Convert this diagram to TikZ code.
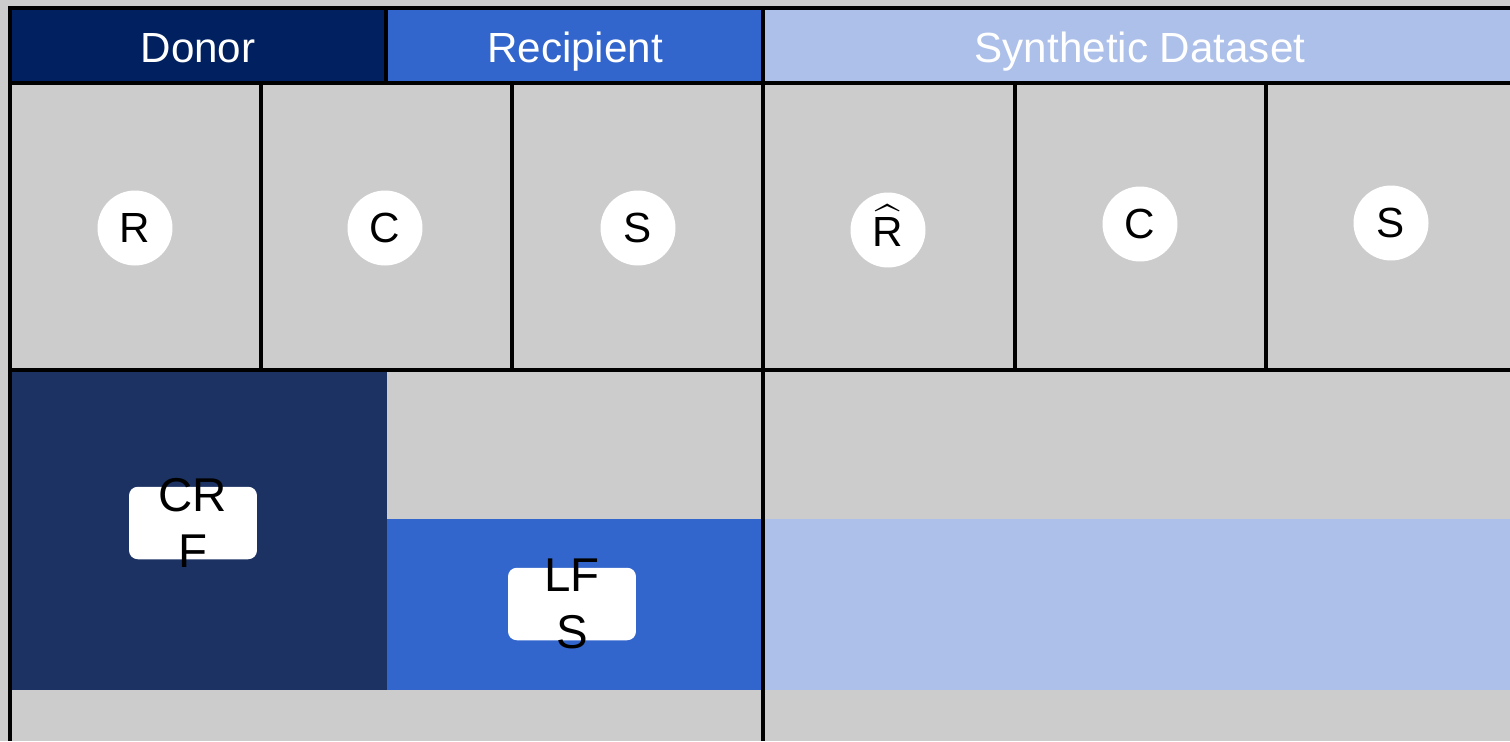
\documentclass[tikz,border=0pt]{standalone}
\usepackage{fontspec}
\setmainfont{Liberation Sans}
\usepackage{amsmath}

\definecolor{donorblue}{HTML}{002060}
\definecolor{donordark}{HTML}{1B3263}
\definecolor{recipblue}{HTML}{3366CC}
\definecolor{synthblue}{HTML}{ACC0EA}
\definecolor{cellgray}{HTML}{CCCCCC}

\begin{document}
\begin{tikzpicture}[x=0.02cm,y=-0.02cm,
  rule/.style={line width=2pt,black},
  head/.style={anchor=base,text=white,inner sep=0pt,font=\fontsize{24}{28}\selectfont},
  var/.style={circle,fill=white,minimum size=1.5cm,inner sep=0pt,font=\fontsize{24}{28}\selectfont},
  tag/.style={rectangle,rounded corners=5pt,fill=white,minimum width=2.56cm,minimum height=1.45cm,inner sep=0pt},
  tagtext/.style={align=center,inner sep=0pt,font=\fontsize{27}{32}\selectfont}]

\fill[cellgray] (0,0) rectangle (1510,741);
\useasboundingbox (0,0) rectangle (1510,741);

% header bar
\fill[donorblue] (10,8) rectangle (386,83);
\fill[recipblue] (386,8) rectangle (763,83);
\fill[synthblue] (763,8) rectangle (1510,83);
\node[head] (donor) at (198,62) {Donor};
\node[head] (recipient) at (575,62) {Recipient};
\node[head] (synthetic) at (1140,62) {Synthetic Dataset};

% blocks below the variables
\fill[donordark] (10,370) rectangle (387,690);
\fill[recipblue] (387,519) rectangle (763,690);
\fill[synthblue] (763,519) rectangle (1510,690);

% grid
\draw[rule] (8,8) -- (1510,8);
\draw[rule] (10,8) -- (10,741);
\draw[rule] (10,83) -- (1510,83);
\draw[rule] (10,370) -- (1510,370);
\draw[rule] (386,8) -- (386,83);
\draw[rule] (763,8) -- (763,741);
\foreach \x in {261,512,1015,1266}
  \draw[rule] (\x,83) -- (\x,370);

% variables
\foreach \x/\y/\name/\lbl in {135/228/r/R, 385/228/c/C, 638/228/s/S,
    888/230/rhat/{\raisebox{5pt}{$\widehat{\mathrm{R}}$}}, 1140/224/csyn/C, 1391/223/ssyn/S}
  \node[var] (\name) at (\x,\y) {\lbl};

% models
\node[tag] (crf) at (193,523) {};
\node[tagtext] (crftext) at (crf) {CR\\F};
\node[tag] (lfs) at (572,604) {};
\node[tagtext] (lfstext) at (lfs) {LF\\S};
\end{tikzpicture}
\end{document}
